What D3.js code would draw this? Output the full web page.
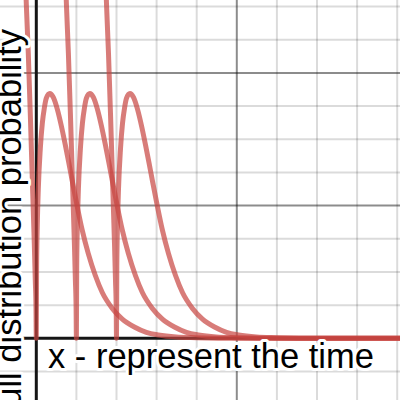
<!DOCTYPE html>
<html>
<head>
<meta charset="utf-8">
<script src="https://cdn.jsdelivr.net/npm/d3@7"></script>
<style>
  html, body { margin: 0; padding: 0; background: #fff; overflow: hidden; }
  svg { display: block; }
</style>
</head>
<body>
<div id="chart"></div>
<script>
// Three shifted Weibull-type density curves.
// x: 1 major = 1, minor 0.2 ; y: major 2, minor 0.5

const curve1X = [-0.055, -0.050, -0.040, -0.030, -0.020, -0.010, -0.005, -0.0015, 0, 0.0015, 0.005, 0.010, 0.020, 0.030, 0.040, 0.050, 0.067, 0.085, 0.105, 0.125, 0.145, 0.170, 0.200, 0.229, 0.259, 0.294, 0.329, 0.379, 0.429, 0.489, 0.549, 0.608, 0.698, 0.798, 1.0, 1.85];
const curve2X = [0.145, 0.150, 0.160, 0.170, 0.180, 0.190, 0.195, 0.1985, 0.2, 0.2015, 0.205, 0.210, 0.220, 0.230, 0.240, 0.250, 0.267, 0.285, 0.305, 0.325, 0.345, 0.370, 0.400, 0.429, 0.459, 0.494, 0.529, 0.579, 0.629, 0.689, 0.749, 0.808, 0.898, 0.998, 1.2, 1.85];
const curve3X = [0.345, 0.350, 0.360, 0.370, 0.380, 0.390, 0.395, 0.3985, 0.4, 0.4015, 0.405, 0.410, 0.420, 0.430, 0.440, 0.450, 0.467, 0.485, 0.505, 0.525, 0.545, 0.570, 0.600, 0.629, 0.659, 0.694, 0.729, 0.779, 0.829, 0.889, 0.949, 1.008, 1.098, 1.198, 1.4, 1.85];
// same density values for all three curves
const densityY = [5.50, 5.05, 4.30, 3.39, 2.41, 1.43, 0.87, 0.45, 0, 1.07, 1.72, 2.25, 2.86, 3.24, 3.47, 3.62, 3.69, 3.63, 3.45, 3.20, 2.91, 2.52, 2.05, 1.63, 1.28, 0.95, 0.69, 0.45, 0.29, 0.17, 0.09, 0.05, 0.02, 0.01, 0, 0];

const xLabel = 'x - represent the time';
const yLabel = 'Weibull distribution probability';

const width = 400, height = 400;

const x = d3.scaleLinear().domain([0, 1]).range([36.3, 236.8]);
const y = d3.scaleLinear().domain([0, 2]).range([338.3, 205.6]);

const svg = d3.select('#chart').append('svg')
  .attr('width', width).attr('height', height);

// visible data window
const x0 = x.invert(0), x1 = x.invert(width);
const y0 = y.invert(height), y1 = y.invert(0);

const near = (v, step) => Math.abs(v / step - Math.round(v / step)) < 1e-6;

const xMinor = d3.range(Math.ceil(x0 / 0.2) * 0.2, x1, 0.2);
const yMinor = d3.range(Math.ceil(y0 / 0.5) * 0.5, y1, 0.5);

// minor grid
svg.append('g').selectAll('line').data(xMinor.filter(d => !near(d, 1))).join('line')
  .attr('x1', d => x(d)).attr('x2', d => x(d)).attr('y1', 0).attr('y2', height)
  .attr('stroke', 'rgba(0,0,0,0.14)').attr('stroke-width', 2);
svg.append('g').selectAll('line').data(yMinor.filter(d => !near(d, 2))).join('line')
  .attr('y1', d => y(d)).attr('y2', d => y(d)).attr('x1', 0).attr('x2', width)
  .attr('stroke', 'rgba(0,0,0,0.14)').attr('stroke-width', 2);

// major grid
svg.append('g').selectAll('line').data(xMinor.filter(d => near(d, 1) && Math.abs(d) > 1e-6)).join('line')
  .attr('x1', d => x(d)).attr('x2', d => x(d)).attr('y1', 0).attr('y2', height)
  .attr('stroke', 'rgba(0,0,0,0.45)').attr('stroke-width', 2);
svg.append('g').selectAll('line').data(yMinor.filter(d => near(d, 2) && Math.abs(d) > 1e-6)).join('line')
  .attr('y1', d => y(d)).attr('y2', d => y(d)).attr('x1', 0).attr('x2', width)
  .attr('stroke', 'rgba(0,0,0,0.45)').attr('stroke-width', 2);

// axes
svg.append('line').attr('x1', 0).attr('x2', width).attr('y1', y(0)).attr('y2', y(0))
  .attr('stroke', '#151515').attr('stroke-width', 3);
svg.append('line').attr('x1', x(0)).attr('x2', x(0)).attr('y1', 0).attr('y2', height)
  .attr('stroke', '#151515').attr('stroke-width', 3);

// curves
const line = d3.line().x(d => x(d[0])).y(d => y(d[1])).curve(d3.curveMonotoneX);
[curve1X, curve2X, curve3X].forEach(xs => {
  svg.append('path')
    .datum(xs.map((v, i) => [v, densityY[i]]))
    .attr('d', line)
    .attr('fill', 'none')
    .attr('stroke', '#c74440').attr('stroke-opacity', 0.7)
    .attr('stroke-width', 5)
    .attr('stroke-linecap', 'round').attr('stroke-linejoin', 'round');
});

// labels with white halo like the graphing tool
const label = sel => sel
  .attr('font-family', '"Liberation Sans", Arial, sans-serif')
  .attr('font-size', '34.5px').attr('fill', '#000')
  .attr('stroke', '#fff').attr('stroke-width', 6)
  .attr('stroke-linejoin', 'round').attr('paint-order', 'stroke');

svg.append('text').attr('x', 48).attr('y', 368).text(xLabel).call(label);

svg.append('text')
  .attr('transform', 'translate(21,29) rotate(-90)')
  .attr('text-anchor', 'end')
  .text(yLabel).call(label);
</script>
</body>
</html>
